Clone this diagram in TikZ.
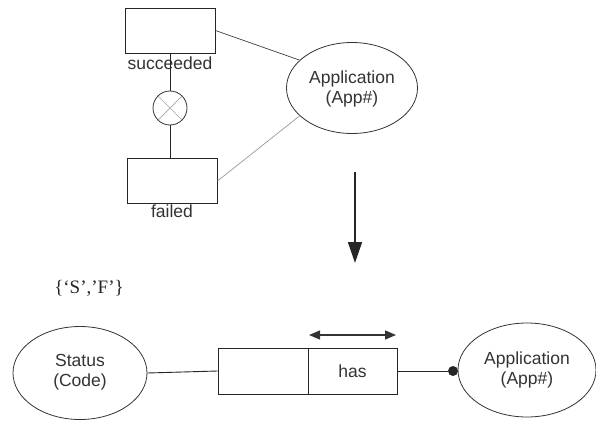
\documentclass[tikz,border=0pt]{standalone}
\usepackage{fontspec}
\setmainfont{Liberation Serif}
\setsansfont{Liberation Sans}
\usetikzlibrary{arrows.meta,shapes.geometric}
\begin{document}
\begin{tikzpicture}[x=1pt,y=-1pt,
  ink/.style={draw=black!85,line width=0.9pt},
  entity/.style={ink,draw,minimum width=90pt,minimum height=45pt,inner sep=0pt},
  attr/.style={draw=black!80,line width=0.8pt,ellipse,inner sep=0pt},
  lbl/.style={font=\sffamily\fontsize{17.5}{20}\selectfont,text=black!80,inner sep=0pt,align=center},
  link/.style={draw=black!75,line width=0.7pt},
  faint/.style={draw=black!40,line width=0.7pt}]
\useasboundingbox (0,0) rectangle (596,423);
\fill[white] (0,0) rectangle (596,423);

% upper schema: two entity types linked by an exclusion
\node[entity] (succ) at (170,30.5) {};
\node[lbl,anchor=north] (succL) at ([yshift=-3]succ.south) {succeeded};
\node[entity] (fail) at (172,181) {};
\node[lbl,anchor=north] (failL) at ([yshift=-1]fail.south) {failed};
\node[draw=black!80,line width=0.8pt,circle,minimum size=34pt,inner sep=0pt] (xor) at (170,108) {};
\draw[black!35,line width=0.7pt] (xor.45) -- (xor.225) (xor.135) -- (xor.315);
\draw[ink] (succ.south -| xor) -- (xor.north);
\draw[ink] (xor.south) -- (fail.north -| xor);

\node[attr,minimum width=131pt,minimum height=91pt] (appA) at (352,88) {};
\node[lbl] (appAL) at (352,89) {Application\\(App\#)};
\draw[link] (succ.east) -- (appA.152);
\draw[faint] (fail.east) -- (appA.208);

% transformation arrow
\coordinate (arrTop) at (355,172);
\coordinate (arrBot) at (355,263);
\draw[draw=black!85,line width=1.6pt,-{Triangle[length=21pt,width=14pt]}] (arrTop) -- (arrBot);

% lower schema: binary fact type
\node[font=\fontsize{19}{21}\selectfont,text=black!85,inner sep=0pt] (codes) at (89,288) {\{‘S’,’F’\}};

\node[attr,minimum width=134pt,minimum height=93pt] (status) at (80,373) {};
\node[lbl] (statusL) at (80,372) {Status\\(Code)};

\node[ink,draw,minimum width=90pt,minimum height=46pt,inner sep=0pt] (roleA) at (263,371) {};
\node[ink,draw,minimum width=89pt,minimum height=46pt,inner sep=0pt] (roleB) at (352.5,371) {};
\node[lbl] (hasL) at (roleB) {has};

\coordinate (ucL) at (309,335);
\coordinate (ucR) at (396,335);
\draw[draw=black!80,line width=1.3pt,{Triangle[length=11pt,width=9pt]}-{Triangle[length=11pt,width=9pt]}] (ucL) -- (ucR);

\node[attr,minimum width=138pt,minimum height=94pt] (appB) at (527,370) {};
\node[lbl] (appBL) at (527,370) {Application\\(App\#)};

\draw[ink] (status.east) -- (roleA.west);
\node[circle,fill=black!85,minimum size=10pt,inner sep=0pt] (dot) at (453,371) {};
\draw[ink] (roleB.east) -- (dot);
\end{tikzpicture}
\end{document}
